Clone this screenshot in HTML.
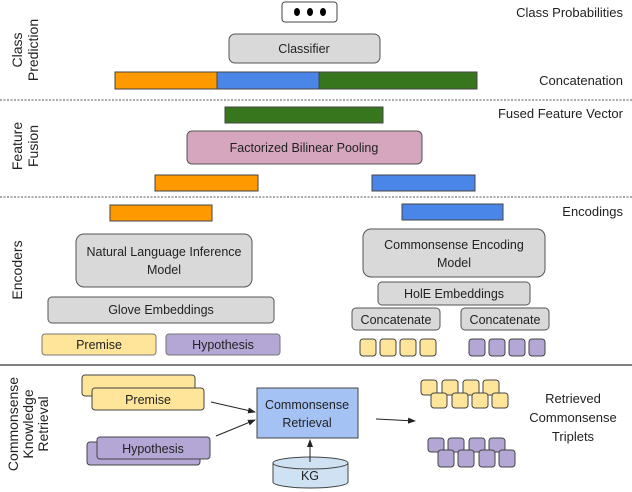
<!DOCTYPE html>
<html><head><meta charset="utf-8"><style>
html,body{margin:0;padding:0;background:#fff}
svg{display:block}
text{font-family:"Liberation Sans",sans-serif;fill:#222}
</style></head><body>
<svg width="632" height="492" viewBox="0 0 632 492" xmlns="http://www.w3.org/2000/svg">
<defs><marker id="ah" markerWidth="8" markerHeight="6" refX="7" refY="3" orient="auto"><path d="M0,0 L8,3 L0,6 z" fill="#222"/></marker></defs>
<g stroke="#444" stroke-width="1">
<!-- Class prediction -->
<rect x="282" y="2" width="55" height="20" rx="3" fill="#fff"/>
<rect x="229" y="34" width="151" height="29" rx="6" fill="#d9d9d9" stroke="#555"/>
<rect x="115" y="72" width="102" height="17" fill="#ff9900"/>
<rect x="217" y="72" width="102" height="17" fill="#4a86e8"/>
<rect x="319" y="72" width="158" height="17" fill="#38761d"/>
<!-- Fusion -->
<rect x="225" y="107" width="158" height="16" fill="#38761d"/>
<rect x="187" y="131" width="235" height="33" rx="5" fill="#d5a6bd" stroke="#555"/>
<rect x="155" y="175" width="103" height="16" fill="#ff9900"/>
<rect x="372" y="175" width="103" height="16" fill="#4a86e8"/>
<!-- Encoders -->
<rect x="110" y="205" width="102" height="16" fill="#ff9900"/>
<rect x="402" y="204" width="101" height="16" fill="#4a86e8"/>
<rect x="76" y="234" width="176" height="53" rx="8" fill="#d9d9d9" stroke="#555"/>
<rect x="363" y="229" width="182" height="48" rx="8" fill="#d9d9d9" stroke="#555"/>
<rect x="48" y="297" width="226" height="26" rx="4" fill="#d9d9d9" stroke="#555"/>
<rect x="378" y="282" width="152" height="23" rx="4" fill="#d9d9d9" stroke="#555"/>
<rect x="352" y="308" width="88" height="22" rx="4" fill="#d9d9d9" stroke="#555"/>
<rect x="461" y="308" width="88" height="22" rx="4" fill="#d9d9d9" stroke="#555"/>
<rect x="42" y="334" width="114" height="21" rx="3" fill="#ffe599" stroke="#777"/>
<rect x="166" y="334" width="114" height="21" rx="3" fill="#b4a7d6" stroke="#777"/>
<g fill="#ffe599"><rect x="360" y="339" width="16" height="17" rx="3"/><rect x="380" y="339" width="16" height="17" rx="3"/><rect x="400" y="339" width="16" height="17" rx="3"/><rect x="420" y="339" width="16" height="17" rx="3"/></g>
<g fill="#b4a7d6"><rect x="469" y="339" width="16" height="17" rx="3"/><rect x="489" y="339" width="16" height="17" rx="3"/><rect x="509" y="339" width="16" height="17" rx="3"/><rect x="529" y="339" width="16" height="17" rx="3"/></g>
<!-- Retrieval -->
<rect x="82" y="375" width="113" height="21" rx="3" fill="#ffe599"/>
<rect x="92" y="388" width="112" height="22" rx="3" fill="#ffe599"/>
<rect x="87" y="442" width="113" height="23" rx="3" fill="#b4a7d6"/>
<rect x="97" y="437" width="113" height="22" rx="3" fill="#b4a7d6"/>
<rect x="257" y="388" width="101" height="50" fill="#a4c2f4"/>
<path d="M273,463 L273,482 A37.5,6 0 0 0 348,482 L348,463" fill="#cfe2f3"/>
<ellipse cx="310.5" cy="463" rx="37.5" ry="6" fill="#cfe2f3"/>
<g fill="#ffe599"><rect x="421" y="380" width="16" height="15" rx="3"/><rect x="442" y="380" width="16" height="15" rx="3"/><rect x="463" y="380" width="16" height="15" rx="3"/><rect x="483" y="380" width="16" height="15" rx="3"/>
<rect x="431" y="393" width="16" height="15" rx="3"/><rect x="452" y="393" width="16" height="15" rx="3"/><rect x="472" y="393" width="16" height="15" rx="3"/><rect x="492" y="393" width="16" height="15" rx="3"/></g>
<g fill="#b4a7d6"><rect x="428" y="438" width="16" height="14" rx="3"/><rect x="448" y="438" width="16" height="14" rx="3"/><rect x="469" y="438" width="16" height="14" rx="3"/><rect x="489" y="438" width="16" height="14" rx="3"/>
<rect x="438" y="450" width="16" height="17" rx="3"/><rect x="458" y="450" width="16" height="17" rx="3"/><rect x="479" y="450" width="16" height="17" rx="3"/><rect x="499" y="450" width="16" height="17" rx="3"/></g>
</g>
<g fill="#000"><ellipse cx="297" cy="12" rx="3" ry="4"/><ellipse cx="310" cy="12" rx="3" ry="4"/><ellipse cx="323" cy="12" rx="3" ry="4"/></g>
<!-- separators -->
<line x1="0" y1="100" x2="632" y2="100" stroke="#555" stroke-dasharray="2,1.5"/>
<line x1="0" y1="197" x2="632" y2="197" stroke="#555" stroke-dasharray="2,1.5"/>
<line x1="0" y1="365" x2="632" y2="365" stroke="#333" stroke-width="1.2"/>
<!-- arrows -->
<g stroke="#222" stroke-width="1" marker-end="url(#ah)">
<line x1="211" y1="402" x2="255" y2="412"/>
<line x1="216" y1="436" x2="255" y2="420"/>
<line x1="310" y1="462" x2="310" y2="440"/>
<line x1="376" y1="419" x2="415" y2="421"/>
</g>
<!-- text -->
<g font-size="12.5" text-anchor="middle">
<text x="304" y="53">Classifier</text>
<text x="304" y="152">Factorized Bilinear Pooling</text>
<text x="164" y="256">Natural Language Inference</text>
<text x="164" y="274">Model</text>
<text x="454" y="249">Commonsense Encoding</text>
<text x="454" y="267">Model</text>
<text x="161" y="314">Glove Embeddings</text>
<text x="454" y="298">HolE Embeddings</text>
<text x="396" y="324">Concatenate</text>
<text x="505" y="324">Concatenate</text>
<text x="99" y="349">Premise</text>
<text x="223" y="349">Hypothesis</text>
<text x="148" y="404">Premise</text>
<text x="153" y="453">Hypothesis</text>
<text x="307" y="409">Commonsense</text>
<text x="307" y="427">Retrieval</text>
<text x="310" y="480">KG</text>
<text x="573" y="403" font-size="13">Retrieved</text>
<text x="573" y="422" font-size="13">Commonsense</text>
<text x="573" y="441" font-size="13">Triplets</text>
</g>
<g font-size="13" text-anchor="end">
<text x="623" y="17">Class Probabilities</text>
<text x="623" y="85">Concatenation</text>
<text x="623" y="118">Fused Feature Vector</text>
<text x="623" y="216">Encodings</text>
</g>
<g font-size="14" text-anchor="middle">
<text transform="translate(22,50) rotate(-90)">Class</text>
<text transform="translate(38,50) rotate(-90)">Prediction</text>
<text transform="translate(22,146) rotate(-90)">Feature</text>
<text transform="translate(38,146) rotate(-90)">Fusion</text>
<text transform="translate(22,270) rotate(-90)">Encoders</text>
<text transform="translate(18,424) rotate(-90)">Commonsense</text>
<text transform="translate(33,424) rotate(-90)">Knowledge</text>
<text transform="translate(48,424) rotate(-90)">Retrieval</text>
</g>
</svg>
</body></html>
